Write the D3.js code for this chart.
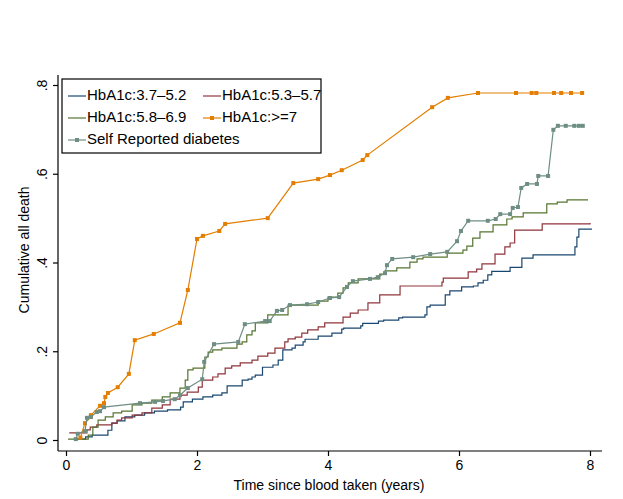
<!DOCTYPE html>
<html><head><meta charset="utf-8">
<script src="https://cdn.jsdelivr.net/npm/d3@7"></script>
<style>body{margin:0;background:#fff}svg{display:block}text{font-family:"Liberation Sans",Arial,sans-serif;fill:#000}</style>
</head><body><svg id="c" width="623" height="499"></svg>
<script>
const xTicks = [0, 2, 4, 6, 8];
const yTicks = [0, 0.2, 0.4, 0.6, 0.8];
const yTickLabels = ["0", ".2", ".4", ".6", ".8"];
const seriesNames = ["HbA1c:3.7\u20135.2", "HbA1c:5.3\u20135.7", "HbA1c:5.8\u20136.9", "HbA1c:>=7", "Self Reported diabetes"];
const seriesColors = ["#1a476f", "#90353b", "#55752f", "#e37e00", "#6e8e84"];

// step series: [time, cumulative]
const hba1c_37_52 = [[0.15,0.002],[0.30,0.007],[0.40,0.011],[0.64,0.022],[0.70,0.038],[0.78,0.043],[0.90,0.052],[1.05,0.056],[1.20,0.061],[1.35,0.065],[1.55,0.068],[1.75,0.074],[1.79,0.086],[1.93,0.092],[2.09,0.097],[2.24,0.101],[2.38,0.106],[2.46,0.122],[2.69,0.135],[2.78,0.137],[2.84,0.142],[2.89,0.146],[3.00,0.164],[3.16,0.169],[3.24,0.180],[3.31,0.203],[3.45,0.207],[3.50,0.214],[3.62,0.221],[3.65,0.227],[3.85,0.234],[4.06,0.241],[4.21,0.250],[4.24,0.252],[4.50,0.257],[4.53,0.263],[4.77,0.268],[4.85,0.270],[5.08,0.275],[5.14,0.277],[5.48,0.282],[5.51,0.300],[5.56,0.304],[5.79,0.327],[5.86,0.336],[6.04,0.345],[6.22,0.347],[6.29,0.354],[6.37,0.360],[6.44,0.372],[6.50,0.380],[6.78,0.389],[6.96,0.410],[7.13,0.417],[7.77,0.435],[7.80,0.457],[7.83,0.475],[8.03,0.475]];
const hba1c_53_57 = [[0.05,0.016],[0.32,0.023],[0.37,0.029],[0.47,0.034],[0.70,0.038],[0.78,0.045],[0.85,0.050],[1.01,0.056],[1.16,0.061],[1.31,0.072],[1.47,0.079],[1.59,0.092],[1.74,0.101],[1.85,0.108],[2.02,0.119],[2.08,0.135],[2.24,0.142],[2.32,0.149],[2.43,0.162],[2.53,0.167],[2.66,0.174],[2.84,0.180],[2.93,0.189],[3.08,0.196],[3.19,0.207],[3.34,0.221],[3.39,0.228],[3.50,0.232],[3.60,0.241],[3.69,0.248],[3.85,0.255],[3.95,0.264],[4.23,0.277],[4.34,0.286],[4.46,0.293],[4.61,0.309],[4.79,0.327],[5.10,0.347],[5.74,0.356],[5.76,0.365],[6.14,0.379],[6.27,0.385],[6.35,0.397],[6.55,0.419],[6.70,0.435],[6.78,0.444],[6.85,0.473],[7.27,0.487],[8.00,0.489]];
const hba1c_58_69 = [[0.03,0.002],[0.34,0.011],[0.41,0.029],[0.49,0.045],[0.60,0.052],[0.72,0.061],[0.85,0.065],[1.01,0.079],[1.16,0.083],[1.31,0.090],[1.47,0.097],[1.59,0.106],[1.74,0.117],[1.82,0.135],[1.86,0.158],[1.94,0.162],[2.12,0.187],[2.17,0.198],[2.24,0.203],[2.38,0.207],[2.61,0.216],[2.69,0.221],[2.76,0.237],[2.84,0.246],[2.89,0.264],[3.08,0.282],[3.39,0.304],[3.85,0.313],[4.00,0.322],[4.15,0.331],[4.23,0.343],[4.31,0.354],[4.46,0.363],[4.79,0.374],[4.87,0.381],[5.05,0.388],[5.25,0.401],[5.36,0.408],[5.45,0.412],[5.82,0.421],[6.06,0.428],[6.12,0.437],[6.21,0.455],[6.32,0.469],[6.52,0.485],[6.73,0.498],[6.81,0.503],[6.98,0.512],[7.34,0.532],[7.50,0.536],[7.65,0.541],[7.97,0.541]];
// connected series
const hba1c_ge7 = [[0.22,0.005],[0.29,0.038],[0.38,0.052],[0.38,0.056],[0.52,0.077],[0.58,0.083],[0.60,0.097],[0.64,0.106],[0.79,0.119],[0.96,0.149],[1.05,0.225],[1.34,0.239],[1.74,0.264],[1.86,0.338],[2.00,0.453],[2.09,0.460],[2.34,0.471],[2.43,0.487],[3.08,0.500],[3.47,0.579],[3.85,0.588],[4.03,0.597],[4.21,0.608],[4.53,0.631],[4.60,0.642],[5.59,0.750],[5.83,0.771],[6.29,0.782],[6.87,0.782],[7.11,0.782],[7.18,0.782],[7.45,0.782],[7.56,0.782],[7.71,0.782],[7.88,0.782]];
const selfReported = [[0.15,0.002],[0.18,0.014],[0.29,0.020],[0.32,0.050],[0.38,0.052],[0.47,0.063],[0.52,0.065],[0.58,0.074],[1.13,0.083],[1.36,0.086],[1.48,0.088],[1.66,0.092],[1.74,0.101],[1.86,0.117],[2.08,0.137],[2.11,0.176],[2.26,0.216],[2.63,0.221],[2.73,0.261],[3.04,0.268],[3.11,0.268],[3.22,0.291],[3.30,0.293],[3.42,0.304],[3.68,0.306],[3.85,0.311],[4.03,0.320],[4.17,0.322],[4.29,0.345],[4.38,0.358],[4.64,0.363],[4.76,0.367],[4.87,0.376],[4.90,0.394],[4.98,0.408],[5.30,0.412],[5.56,0.419],[5.82,0.424],[5.97,0.448],[6.03,0.471],[6.14,0.494],[6.44,0.494],[6.56,0.498],[6.63,0.509],[6.78,0.509],[6.82,0.523],[6.90,0.525],[6.95,0.568],[7.04,0.577],[7.19,0.577],[7.21,0.595],[7.36,0.595],[7.44,0.699],[7.51,0.708],[7.63,0.708],[7.76,0.708],[7.83,0.708],[7.89,0.708]];

const svg = d3.select("#c");
const x = d3.scaleLinear().domain([0, 8]).range([66, 590]);
const y = d3.scaleLinear().domain([0, 0.8]).range([440, 85]);
const FS = 14;

// axes
const xAxisY = 451, yAxisX = 58;
svg.append("line").attr("x1", yAxisX).attr("x2", 602).attr("y1", xAxisY).attr("y2", xAxisY).attr("stroke", "#000").attr("stroke-width", 1.2);
svg.append("line").attr("x1", yAxisX).attr("x2", yAxisX).attr("y1", 75).attr("y2", xAxisY).attr("stroke", "#000").attr("stroke-width", 1.2);

const xa = svg.append("g").attr("transform", `translate(0,${xAxisY})`)
  .call(d3.axisBottom(x).tickValues(xTicks).tickFormat(d3.format("d")).tickSize(5).tickPadding(4));
xa.select(".domain").remove();
xa.selectAll("text").attr("font-size", FS).attr("font-family", "Liberation Sans, Arial, sans-serif").attr("fill", "#000");
xa.selectAll("line").attr("stroke", "#000").attr("stroke-width", 1.2);

const ya = svg.append("g").attr("transform", `translate(${yAxisX},0)`)
  .call(d3.axisLeft(y).tickValues(yTicks).tickFormat((d, i) => yTickLabels[i]).tickSize(5).tickPadding(4));
ya.select(".domain").remove();
ya.selectAll("line").attr("stroke", "#000").attr("stroke-width", 1.2);
ya.selectAll("text").attr("font-size", FS).attr("font-family", "Liberation Sans, Arial, sans-serif").attr("fill", "#000")
  .attr("text-anchor", "middle").attr("dy", null).attr("x", null)
  .attr("transform", "translate(-15,0) rotate(-90)").attr("dominant-baseline", "middle");

svg.append("text").attr("x", 329).attr("y", 490).attr("text-anchor", "middle").attr("font-size", FS).text("Time since blood taken (years)");
svg.append("text").attr("transform", "translate(25,250) rotate(-90)").attr("text-anchor", "middle").attr("dominant-baseline", "middle").attr("font-size", FS).text("Cumulative all death");

// lines
const stepLine = d3.line().x(d => x(d[0])).y(d => y(d[1])).curve(d3.curveStepAfter);
const linLine = d3.line().x(d => x(d[0])).y(d => y(d[1]));
const stepSeries = [hba1c_37_52, hba1c_53_57, hba1c_58_69];
stepSeries.forEach((s, i) => {
  svg.append("path").datum(s).attr("d", stepLine).attr("fill", "none").attr("stroke", seriesColors[i]).attr("stroke-width", 1.2);
});
[[hba1c_ge7, 3], [selfReported, 4]].forEach(([s, i]) => {
  svg.append("path").datum(s).attr("d", linLine).attr("fill", "none").attr("stroke", seriesColors[i]).attr("stroke-width", 1.2);
  svg.append("g").selectAll("rect").data(s).join("rect")
    .attr("x", d => x(d[0]) - 2).attr("y", d => y(d[1]) - 2).attr("width", 4).attr("height", 4).attr("fill", seriesColors[i]);
});

// legend
const lg = svg.append("g");
lg.append("rect").attr("x", 62).attr("y", 79).attr("width", 259).attr("height", 74).attr("fill", "#fff").attr("stroke", "#000").attr("stroke-width", 1.2);
const pos = [[68, 96], [203, 96], [68, 118], [203, 118], [68, 140]];
seriesNames.forEach((n, i) => {
  const [lx, ly] = pos[i];
  lg.append("line").attr("x1", lx).attr("x2", lx + 18).attr("y1", ly).attr("y2", ly).attr("stroke", seriesColors[i]).attr("stroke-width", 1.2);
  if (i >= 3) lg.append("rect").attr("x", lx + 7).attr("y", ly - 2).attr("width", 4).attr("height", 4).attr("fill", seriesColors[i]);
  lg.append("text").attr("x", lx + 19).attr("y", ly).attr("dominant-baseline", "middle").attr("font-size", 15).text(n);
});
</script></body></html>
